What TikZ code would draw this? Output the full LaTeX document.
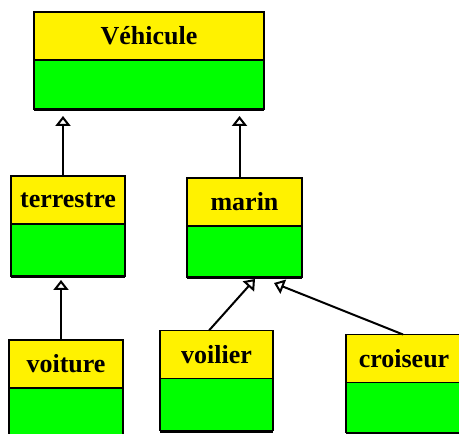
\documentclass[tikz,border=0pt]{standalone}
\usepackage{fontspec}
\setmainfont{Liberation Serif}
\usetikzlibrary{arrows.meta,positioning}

\tikzset{
  titre/.style={draw,line width=1.6pt,fill=yellow,minimum height=48pt,inner sep=0pt,outer sep=0pt,
    font=\bfseries\fontsize{26}{28}\selectfont},
  corps/.style={draw,line width=1.6pt,fill=green,minimum height=#1,inner sep=0pt,outer sep=0pt},
  corps/.default=50pt,
  herite/.style={line width=2pt,-{Triangle[open,width=15pt,length=10pt,line width=2pt]}}
}

\begin{document}
\begin{tikzpicture}[x=1pt,y=1pt]
  \useasboundingbox (0,0) rectangle (459,434);
  % classes
  \node[titre,minimum width=230pt] (vehicule) at (149,398) {Véhicule};
  \node[corps=49pt,minimum width=230pt,below=0pt of vehicule] (vehicule-b) {};
  \node[titre,minimum width=114pt] (terrestre) at (68,234) {terrestre};
  \node[corps=52pt,minimum width=114pt,below=0pt of terrestre] (terrestre-b) {};
  \node[titre,minimum width=115pt] (marin) at (244.5,232) {marin};
  \node[corps=51pt,minimum width=115pt,below=0pt of marin] (marin-b) {};
  \node[titre,minimum width=114pt] (voiture) at (66,70) {voiture};
  \node[corps,minimum width=114pt,below=0pt of voiture] (voiture-b) {};
  \node[titre,minimum width=113pt] (voilier) at (216.5,79.5) {voilier};
  \node[corps=52pt,minimum width=113pt,below=0pt of voilier] (voilier-b) {};
  \node[titre,minimum width=116pt] (croiseur) at (404,75.5) {croiseur};
  \node[corps,minimum width=116pt,below=0pt of croiseur] (croiseur-b) {};
  \foreach \n in {vehicule,terrestre,marin,voiture,voilier,croiseur}
    \draw[line width=3pt] ([yshift=-1pt]\n-b.south west) -- ([yshift=-1pt]\n-b.south east);

  % heritage
  \draw[herite,shorten >=7pt] ([xshift=-5pt]terrestre.north) coordinate (t1) -- (t1 |- vehicule-b.south);
  \draw[herite,shorten >=7pt] ([xshift=-5pt]marin.north) coordinate (m1) -- (m1 |- vehicule-b.south);
  \draw[herite,shorten >=4pt] ([xshift=-5pt]voiture.north) coordinate (v1) -- (v1 |- terrestre-b.south);
  \draw[herite] ([xshift=-7.5pt]voilier.north) -- ([xshift=10.5pt,yshift=-2pt]marin-b.south);
  \draw[herite] ([xshift=-1pt]croiseur.north) -- ([xshift=29.5pt,yshift=-6pt]marin-b.south);
\end{tikzpicture}
\end{document}
